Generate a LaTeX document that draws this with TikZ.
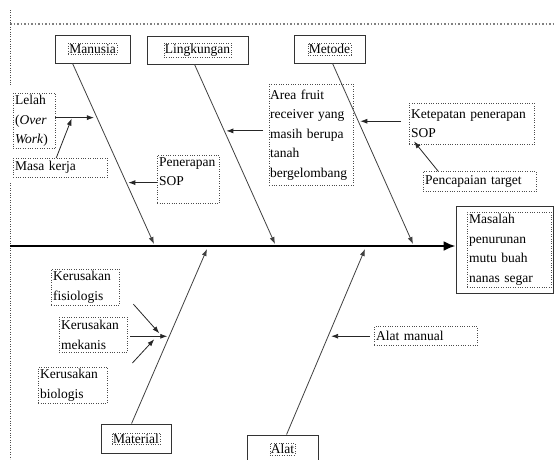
\documentclass[tikz,border=0pt]{standalone}
\usepackage{fontspec}
\setmainfont{Liberation Serif}
\usetikzlibrary{calc,arrows.meta}

\begin{document}
\begin{tikzpicture}[x=1pt, y=-1pt, >={Latex[length=7pt,width=5pt]},
  cat/.style={draw=black!80, line width=0.9pt},
  lbl/.style={draw=black!70, dotted, inner sep=1pt},
  txt/.style={draw=black!70, dotted, inner sep=2pt, anchor=north west, align=left},
  bone/.style={black!75, line width=0.8pt, ->},
  sub/.style={black!85, line width=0.8pt, ->}]

  \fontsize{13.5}{19.5}\selectfont

  \useasboundingbox (0,0) rectangle (554,459);

  %% page frame
  \draw[gray, dotted, line width=1.5pt] (10,24) -- (554,24);
  \draw[black!70, dotted] (10,10) -- (10,85) (10,183) -- (10,459);

  %% categories
  \node[cat, minimum width=75pt, minimum height=28pt] (manusia) at (92.5,49) {};
  \node[lbl] (manusiaT) at (manusia) {Manusia};
  \node[cat, minimum width=101pt, minimum height=28pt] (lingkungan) at (197.5,50) {};
  \node[lbl] (lingkunganT) at (lingkungan) {Lingkungan};
  \node[cat, minimum width=71pt, minimum height=28pt] (metode) at (329.5,49) {};
  \node[lbl] (metodeT) at (metode) {Metode};
  \node[cat, minimum width=70pt, minimum height=29pt] (material) at (136,438.5) {};
  \node[lbl] (materialT) at (material) {Material};
  \node[cat, minimum width=71pt, minimum height=28pt] (alat) at (282.5,449) {};
  \node[lbl] (alatT) at (alat) {Alat};

  %% effect
  \node[cat, minimum width=97pt, minimum height=87pt] (masalah) at (504.5,249.5) {};
  \node[txt, text width=80pt, minimum height=73pt] (masalahT) at (467,212) {Masalah\\penurunan\\mutu buah\\nanas segar};

  %% causes
  \node[txt, text width=38pt, minimum height=53pt] (lelah) at (13,93) {Lelah\\(\textit{Over}\\\textit{Work})};
  \node[txt, text width=90pt, minimum height=19pt] (masa) at (13,158) {Masa kerja};
  \node[txt] (penerapan) at (157,155) {\parbox[t][44pt][t]{58pt}{Penerapan\\SOP}};
  \node[txt, inner sep=1pt, text width=82pt, minimum height=101pt] (area) at (269,84) {Area fruit\\receiver yang\\masih berupa\\tanah\\bergelombang};
  \node[txt, text width=121pt, minimum height=41pt] (ketepatan) at (409,103) {Ketepatan penerapan\\SOP};
  \node[txt, text width=109pt, minimum height=20pt] (pencapaian) at (423,171) {Pencapaian target};
  \node[txt, text width=64pt, minimum height=35pt] (fisiologis) at (51,269) {Kerusakan\\fisiologis};
  \node[txt, text width=64pt, minimum height=35pt] (mekanis) at (59,317) {Kerusakan\\mekanis};
  \node[txt, text width=65pt, minimum height=34pt] (biologis) at (38,367) {Kerusakan\\biologis};
  \node[txt, text width=99pt, minimum height=19pt] (alatmanual) at (374,326) {Alat manual};

  %% spine
  \coordinate (spineL) at (10,246);
  \draw[line width=2.8pt, -{Latex[length=12pt,width=10pt]}] (spineL) -- (spineL -| masalah.west);

  %% bones
  \coordinate (manusiaA) at ([xshift=18pt]manusia.south west);
  \coordinate (manusiaB) at (154,244);
  \coordinate (lingkunganA) at ([xshift=48pt]lingkungan.south west);
  \coordinate (lingkunganB) at (275,244);
  \coordinate (metodeA) at ([xshift=39pt]metode.south west);
  \coordinate (metodeB) at (413,244);
  \coordinate (materialA) at ([xshift=31pt]material.north west);
  \coordinate (materialB) at (207,249);
  \coordinate (alatA) at ([xshift=40pt]alat.north west);
  \coordinate (alatB) at (365,249);

  \draw[bone] (manusiaA) -- (manusiaB);
  \draw[bone] (lingkunganA) -- (lingkunganB);
  \draw[bone] (metodeA) -- (metodeB);
  \draw[bone] (materialA) -- (materialB);
  \draw[bone] (alatA) -- (alatB);

  %% sub causes
  \coordinate (m1) at ($(manusiaA)!0.3!(manusiaB)$);
  \coordinate (m2) at ($(manusiaA)!0.66!(manusiaB)$);
  \coordinate (l1) at ($(lingkunganA)!0.37!(lingkunganB)$);
  \coordinate (k1) at ($(metodeA)!0.32!(metodeB)$);
  \coordinate (mat1) at ($(materialA)!0.5!(materialB)$);
  \coordinate (a1) at ($(alatA)!0.53!(alatB)$);
  \coordinate (lelahIn) at ($(lelah.east |- m1)!0.4!(m1)$);

  \draw[sub, shorten >=3pt] (lelah.east |- m1) -- (m1);
  \draw[sub, shorten >=1pt] ([xshift=-4pt]masa.north) -- (lelahIn);
  \draw[sub, shorten >=2pt] (penerapan.west |- m2) -- (m2);
  \draw[sub, shorten <=6pt, shorten >=2pt] (area.west |- l1) -- (l1);
  \draw[sub, shorten <=8pt, shorten >=2pt] (ketepatan.west |- k1) -- (k1);
  \draw[sub] ([xshift=15pt]pencapaian.north west) -- ([shift={(5,-3)}]ketepatan.south west);
  \draw[sub, shorten <=3pt, shorten >=2pt] (mekanis.east |- mat1) -- (mat1);
  \draw[sub] ([shift={(14,-1)}]fisiologis.south east) -- ([shift={(-10,-3)}]mat1);
  \draw[sub] ([shift={(25,-4)}]biologis.north east) -- ([shift={(-15,3)}]mat1);
  \draw[sub, shorten <=4pt, shorten >=3pt] (alatmanual.west |- a1) -- (a1);
\end{tikzpicture}
\end{document}
